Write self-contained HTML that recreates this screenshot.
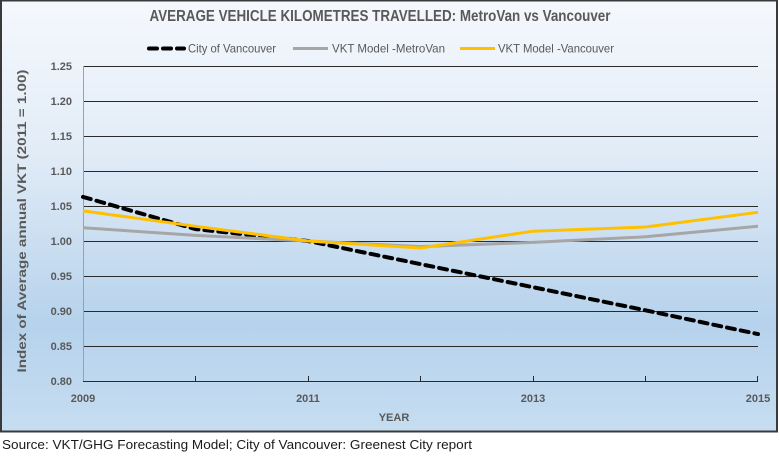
<!DOCTYPE html>
<html><head><meta charset="utf-8"><style>
html,body{margin:0;padding:0;background:#fff;width:780px;height:456px;overflow:hidden}
svg{display:block}
text{font-family:"Liberation Sans",Arial,sans-serif}
</style></head><body>
<svg width="780" height="456" viewBox="0 0 780 456" xmlns="http://www.w3.org/2000/svg">
<defs>
<linearGradient id="bg" x1="0" y1="0" x2="0" y2="1">
<stop offset="0" stop-color="#f5f8fd"/>
<stop offset="0.35" stop-color="#e2ecf7"/>
<stop offset="0.75" stop-color="#b6d2ec"/>
<stop offset="1" stop-color="#c6ddf1"/>
</linearGradient>
</defs>
<rect x="1" y="0.5" width="776" height="431" fill="url(#bg)" stroke="#3a3a3a" stroke-width="2"/>
<text x="380" y="21" font-size="16" font-weight="bold" fill="#595959" text-anchor="middle" textLength="461" lengthAdjust="spacingAndGlyphs">AVERAGE VEHICLE KILOMETRES TRAVELLED:  MetroVan vs Vancouver</text>
<!-- legend -->
<line x1="149" y1="48.5" x2="184" y2="48.5" stroke="#000" stroke-width="4" stroke-dasharray="8 6" stroke-linecap="round"/>
<text x="188" y="52.5" font-size="12" fill="#595959" textLength="88" lengthAdjust="spacingAndGlyphs">City of Vancouver</text>
<line x1="293" y1="48.5" x2="328" y2="48.5" stroke="#a6a6a6" stroke-width="3"/>
<text x="332" y="52.5" font-size="12" fill="#595959" textLength="113" lengthAdjust="spacingAndGlyphs">VKT Model -MetroVan</text>
<line x1="460" y1="48.5" x2="495" y2="48.5" stroke="#ffc000" stroke-width="3"/>
<text x="498" y="52.5" font-size="12" fill="#595959" textLength="116" lengthAdjust="spacingAndGlyphs">VKT Model -Vancouver</text>
<!-- gridlines -->
<g stroke="#2a2a2a" stroke-width="1">
<line x1="83" y1="66.5" x2="758" y2="66.5"/>
<line x1="83" y1="101.5" x2="758" y2="101.5"/>
<line x1="83" y1="136.5" x2="758" y2="136.5"/>
<line x1="83" y1="171.5" x2="758" y2="171.5"/>
<line x1="83" y1="206.5" x2="758" y2="206.5"/>
<line x1="83" y1="241.5" x2="758" y2="241.5"/>
<line x1="83" y1="276.5" x2="758" y2="276.5"/>
<line x1="83" y1="311.5" x2="758" y2="311.5"/>
<line x1="83" y1="346.5" x2="758" y2="346.5"/>
<line x1="83" y1="381.5" x2="758" y2="381.5"/>
</g>
<line x1="83.5" y1="66" x2="83.5" y2="381" stroke="#a0a0a0" stroke-width="1"/>
<g stroke="#2a2a2a" stroke-width="1">
<line x1="195.5" y1="376" x2="195.5" y2="381"/>
<line x1="308.5" y1="376" x2="308.5" y2="381"/>
<line x1="420.5" y1="376" x2="420.5" y2="381"/>
<line x1="533.5" y1="376" x2="533.5" y2="381"/>
<line x1="645.5" y1="376" x2="645.5" y2="381"/>
<line x1="757.5" y1="376" x2="757.5" y2="381"/>
</g>
<!-- y tick labels -->
<g font-size="11" font-weight="bold" fill="#595959" text-anchor="end">
<text x="72" y="70">1.25</text>
<text x="72" y="105">1.20</text>
<text x="72" y="140">1.15</text>
<text x="72" y="175">1.10</text>
<text x="72" y="210">1.05</text>
<text x="72" y="245">1.00</text>
<text x="72" y="280">0.95</text>
<text x="72" y="315">0.90</text>
<text x="72" y="350">0.85</text>
<text x="72" y="385">0.80</text>
</g>
<!-- x tick labels -->
<g font-size="11" font-weight="bold" fill="#595959" text-anchor="middle">
<text x="83" y="402">2009</text>
<text x="308" y="402">2011</text>
<text x="533" y="402">2013</text>
<text x="758" y="402">2015</text>
<text x="394" y="421">YEAR</text>
</g>
<text transform="translate(26,221) rotate(-90)" font-size="12" font-weight="bold" fill="#595959" text-anchor="middle" textLength="303" lengthAdjust="spacingAndGlyphs">Index of  Average annual VKT  (2011 = 1.00)</text>
<!-- series -->
<polyline fill="none" stroke="#000" stroke-width="4" stroke-dasharray="8 6" stroke-linecap="round" stroke-linejoin="round"
 points="83,196.9 195.5,229.1 308,241 420.5,264.1 533,287.2 645.5,310.3 758,334.1"/>
<polyline fill="none" stroke="#a6a6a6" stroke-width="3" stroke-linejoin="round"
 points="83,227.7 195.5,235.4 308,241 420.5,246.6 533,242.4 645.5,236.8 758,226.3"/>
<polyline fill="none" stroke="#ffc000" stroke-width="3" stroke-linejoin="round"
 points="83,210.9 195.5,226.3 308,241 420.5,248 533,231.2 645.5,227 758,212.3"/>
<text x="2" y="449" font-size="13" fill="#1a1a1a" textLength="470" lengthAdjust="spacingAndGlyphs">Source: VKT/GHG Forecasting Model; City of Vancouver: Greenest City report</text>
</svg>
</body></html>
